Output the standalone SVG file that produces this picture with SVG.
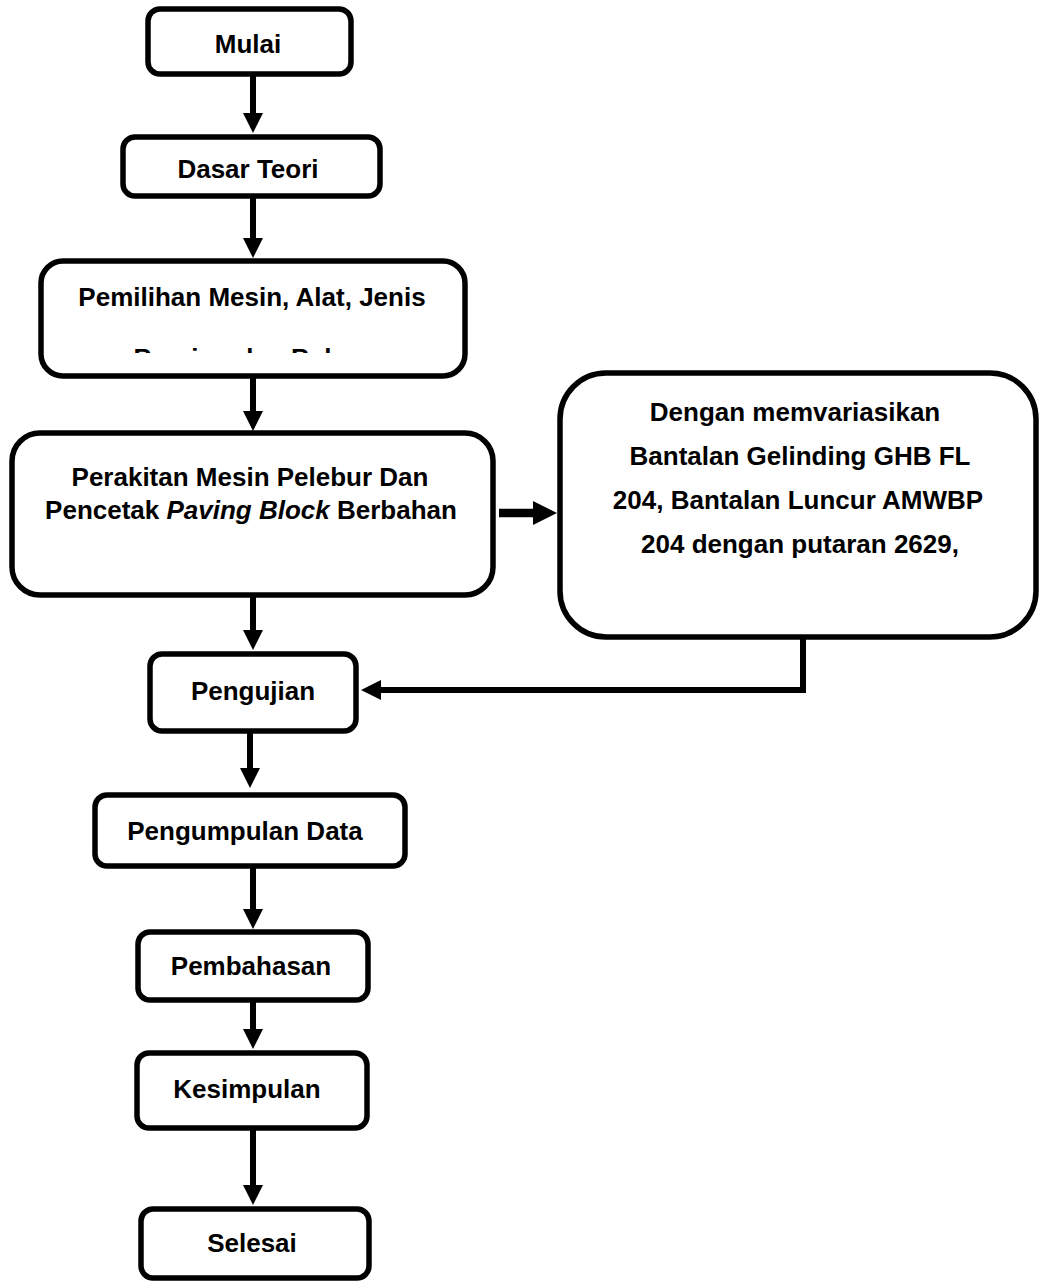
<svg xmlns="http://www.w3.org/2000/svg" width="1039" height="1285" viewBox="0 0 1039 1285">
<style>
.box{fill:#fff;stroke:#000;stroke-width:5.5}
.t{font-family:"Liberation Sans",Arial,sans-serif;font-weight:bold;font-size:26px;fill:#000;text-anchor:middle}
.c{fill:none;stroke:#000;stroke-width:6}
.cb{fill:none;stroke:#000;stroke-width:8.5}
</style>
<defs>
<marker id="ah" markerUnits="userSpaceOnUse" viewBox="0 0 20 20" markerWidth="20" markerHeight="20" refX="0" refY="10" orient="auto">
<path d="M0,0 L20,10 L0,20 z" fill="#000"/>
</marker>
<marker id="ahb" markerUnits="userSpaceOnUse" viewBox="0 0 24 24" markerWidth="24" markerHeight="24" refX="0" refY="12" orient="auto">
<path d="M0,0 L24,12 L0,24 z" fill="#000"/>
</marker>
<clipPath id="clipP"><rect x="40" y="260" width="426" height="93"/></clipPath>
</defs>
<rect width="1039" height="1285" fill="#fff"/>
<g id="connectors">
<line class="c" x1="253" y1="75" x2="253" y2="113" marker-end="url(#ah)"/>
<line class="c" x1="253" y1="197" x2="253" y2="238" marker-end="url(#ah)"/>
<line class="c" x1="253" y1="378" x2="253" y2="411" marker-end="url(#ah)"/>
<line class="c" x1="253" y1="597" x2="253" y2="630" marker-end="url(#ah)"/>
<line class="c" x1="250" y1="733" x2="250" y2="768" marker-end="url(#ah)"/>
<line class="c" x1="253" y1="868" x2="253" y2="909" marker-end="url(#ah)"/>
<line class="c" x1="253" y1="1002" x2="253" y2="1029" marker-end="url(#ah)"/>
<line class="c" x1="253" y1="1130" x2="253" y2="1185" marker-end="url(#ah)"/>
<line class="cb" x1="499" y1="513" x2="533" y2="513" marker-end="url(#ahb)"/>
<polyline class="c" points="803,637 803,690 381,690" marker-end="url(#ah)"/>
</g>
<g id="mulai">
<rect class="box" x="148" y="9" width="203" height="65" rx="12"/>
<text class="t" x="248" y="53">Mulai</text>
</g>
<g id="dasar-teori">
<rect class="box" x="123" y="137" width="257" height="59" rx="12"/>
<text class="t" x="248" y="178">Dasar Teori</text>
</g>
<g id="pemilihan">
<rect class="box" x="41" y="261" width="424" height="115" rx="22"/>
<text class="t" x="252" y="306">Pemilihan Mesin, Alat, Jenis</text>
<text class="t" x="252" y="367" clip-path="url(#clipP)">Bearing dan Bahan</text>
</g>
<g id="perakitan">
<rect class="box" x="12" y="433" width="481" height="162" rx="28"/>
<text class="t" x="250" y="486">Perakitan Mesin Pelebur Dan</text>
<text class="t" x="251" y="519">Pencetak <tspan font-style="italic">Paving Block</tspan> Berbahan</text>
</g>
<g id="variasi">
<rect class="box" x="560" y="373" width="476" height="264" rx="46"/>
<text class="t" x="795" y="421">Dengan memvariasikan</text>
<text class="t" x="800" y="465">Bantalan Gelinding GHB FL</text>
<text class="t" x="798" y="509">204, Bantalan Luncur AMWBP</text>
<text class="t" x="800" y="553">204 dengan putaran 2629,</text>
</g>
<g id="pengujian">
<rect class="box" x="150" y="654" width="206" height="77" rx="12"/>
<text class="t" x="253" y="700">Pengujian</text>
</g>
<g id="pengumpulan-data">
<rect class="box" x="95" y="795" width="310" height="71" rx="12"/>
<text class="t" x="245" y="840">Pengumpulan Data</text>
</g>
<g id="pembahasan">
<rect class="box" x="138" y="932" width="230" height="68" rx="12"/>
<text class="t" x="251" y="975">Pembahasan</text>
</g>
<g id="kesimpulan">
<rect class="box" x="137" y="1053" width="230" height="75" rx="12"/>
<text class="t" x="247" y="1098">Kesimpulan</text>
</g>
<g id="selesai">
<rect class="box" x="141" y="1209" width="228" height="69" rx="12"/>
<text class="t" x="252" y="1252">Selesai</text>
</g>
</svg>
